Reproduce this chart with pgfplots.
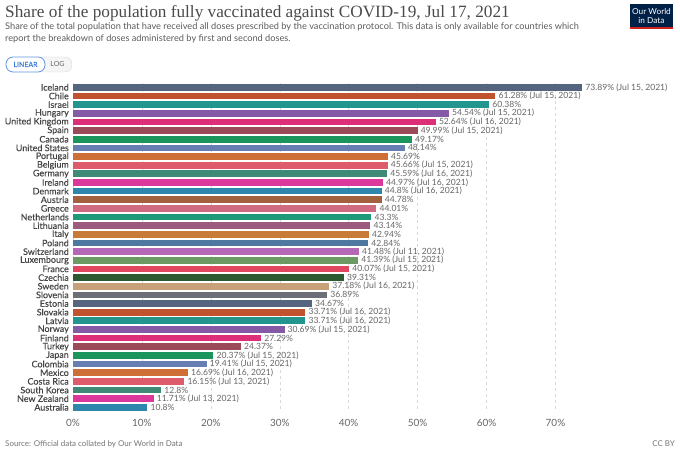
\documentclass[border=0pt]{standalone}
\usepackage{pgfplots}
\pgfplotsset{compat=1.18}
\usepackage{fontspec}
\setmainfont{Lato}
\newfontfamily\titlefont{Liberation Serif}
\newfontfamily\lblfont{Lato}[FakeBold=0.25]
\definecolor{cA}{HTML}{56657F}
\definecolor{cB}{HTML}{C0522D}
\definecolor{cC}{HTML}{22958E}
\definecolor{cD}{HTML}{8459A6}
\definecolor{cE}{HTML}{DC2F78}
\definecolor{cF}{HTML}{9A4A59}
\definecolor{cG}{HTML}{1C955C}
\definecolor{cH}{HTML}{667EB2}
\definecolor{cI}{HTML}{CD6F37}
\definecolor{cJ}{HTML}{DE5B6B}
\definecolor{cK}{HTML}{3E8A77}
\definecolor{cL}{HTML}{DC379A}
\definecolor{cM}{HTML}{2F86AD}
\definecolor{cN}{HTML}{A2603F}
\definecolor{cO}{HTML}{CF6A80}
\definecolor{cP}{HTML}{1F9A79}
\definecolor{cQ}{HTML}{9C5B7D}
\definecolor{cR}{HTML}{C87B36}
\definecolor{cS}{HTML}{4F78A0}
\definecolor{cT}{HTML}{B468B6}
\definecolor{cU}{HTML}{6C9A63}
\definecolor{cV}{HTML}{E0475E}
\definecolor{cW}{HTML}{2C5A30}
\definecolor{cX}{HTML}{C8A07A}
\definecolor{cY}{HTML}{6C6F78}
\definecolor{owid}{HTML}{002147}
\definecolor{owidred}{HTML}{CE261E}
\definecolor{titlegray}{HTML}{4A4A4A}
\definecolor{txtgray}{HTML}{5B5B5B}
\definecolor{lblgray}{HTML}{444444}
\definecolor{valgray}{HTML}{666666}
\definecolor{btnblue}{HTML}{3A7BD5}
\newcommand{\cbar}[4]{\addplot[fill=#3,draw=none] coordinates {(#2,#1) [#4]};}
\begin{document}
\begin{tikzpicture}
\useasboundingbox (0,0) rectangle (680bp,454bp);
% header
\node[anchor=base west, inner sep=0pt, text=titlegray, font=\titlefont\fontsize{17.3}{20}\selectfont] at (5bp,436bp) {Share of the population fully vaccinated against COVID-19, Jul 17, 2021};
\node[anchor=base west, inner sep=0pt, text=txtgray, font=\fontsize{9.25}{11}\selectfont] at (5bp,424bp) {Share of the total population that have received all doses prescribed by the vaccination protocol. This data is only available for countries which};
\node[anchor=base west, inner sep=0pt, text=txtgray, font=\fontsize{9.25}{11}\selectfont] at (5bp,412bp) {report the breakdown of doses administered by first and second doses.};
% buttons
\draw[draw=gray!30, fill=gray!8, rounded corners=7bp] (36bp,382bp) rectangle (72bp,397bp);
\draw[draw=btnblue!80, fill=white, rounded corners=7bp, line width=0.8bp] (6bp,382bp) rectangle (45bp,397bp);
\node[text=btnblue, font=\lblfont\fontsize{7}{8}\selectfont] at (25.5bp,389.5bp) {LINEAR};
\node[text=valgray, font=\fontsize{7}{8}\selectfont] at (57.5bp,389.5bp) {LOG};
% logo
\fill[owid] (630bp,426bp) rectangle (673bp,450bp);
\fill[owidred] (630bp,425bp) rectangle (673bp,427bp);
\node[text=white, font=\fontsize{8.3}{9}\selectfont] at (651.5bp,443bp) {Our World};
\node[text=white, font=\fontsize{8.3}{9}\selectfont] at (651.5bp,433.5bp) {in Data};
% footer
\node[anchor=base west, inner sep=0pt, text=valgray!90, font=\fontsize{8}{9}\selectfont] at (5bp,8bp) {Source: Official data collated by Our World in Data};
\node[anchor=base east, inner sep=0pt, text=valgray!90, font=\fontsize{8}{9}\selectfont] at (675bp,8bp) {CC BY};
\begin{axis}[
  at={(73bp,42.4bp)}, anchor=south west,
  scale only axis, width=551.4bp, height=328.6bp,
  xmin=0, xmax=80, ymin=-0.5, ymax=37.5,
  y dir=reverse, clip=false,
  xbar, bar width=6.7bp,
  every axis plot/.append style={bar shift=0pt},
  axis line style={draw=none},
  major tick length=0pt,
  xtick={0,10,...,70},
  xticklabel={\pgfmathprintnumber{\tick}\%},
  /pgf/number format/assume math mode=true,
  xticklabel style={anchor=center, yshift=-11bp, font=\fontsize{10}{11}\selectfont, text=valgray},
  xmajorgrids, grid style={dashed, color=gray!30, line width=0.5bp},
  ytick={0,...,37},
  yticklabels={Iceland,Chile,Israel,Hungary,United Kingdom,Spain,Canada,United States,Portugal,Belgium,Germany,Ireland,Denmark,Austria,Greece,Netherlands,Lithuania,Italy,Poland,Switzerland,Luxembourg,France,Czechia,Sweden,Slovenia,Estonia,Slovakia,Latvia,Norway,Finland,Turkey,Japan,Colombia,Mexico,Costa Rica,South Korea,New Zealand,Australia},
  yticklabel style={anchor=east, inner sep=0pt, xshift=-4bp, font=\lblfont\fontsize{9}{10}\selectfont, text=lblgray},
  point meta=explicit symbolic,
  nodes near coords,
  nodes near coords style={anchor=west, inner sep=0pt, xshift=3bp, font=\fontsize{8.6}{9}\selectfont, text=valgray},
]
\cbar{0}{73.89}{cA}{73.89\% (Jul 15, 2021)}
\cbar{1}{61.28}{cB}{61.28\% (Jul 15, 2021)}
\cbar{2}{60.38}{cC}{60.38\%}
\cbar{3}{54.54}{cD}{54.54\% (Jul 15, 2021)}
\cbar{4}{52.64}{cE}{52.64\% (Jul 16, 2021)}
\cbar{5}{49.99}{cF}{49.99\% (Jul 15, 2021)}
\cbar{6}{49.17}{cG}{49.17\%}
\cbar{7}{48.14}{cH}{48.14\%}
\cbar{8}{45.69}{cI}{45.69\%}
\cbar{9}{45.66}{cJ}{45.66\% (Jul 15, 2021)}
\cbar{10}{45.59}{cK}{45.59\% (Jul 16, 2021)}
\cbar{11}{44.97}{cL}{44.97\% (Jul 16, 2021)}
\cbar{12}{44.8}{cM}{44.8\% (Jul 16, 2021)}
\cbar{13}{44.78}{cN}{44.78\%}
\cbar{14}{44.01}{cO}{44.01\%}
\cbar{15}{43.3}{cP}{43.3\%}
\cbar{16}{43.14}{cQ}{43.14\%}
\cbar{17}{42.94}{cR}{42.94\%}
\cbar{18}{42.84}{cS}{42.84\%}
\cbar{19}{41.48}{cT}{41.48\% (Jul 11, 2021)}
\cbar{20}{41.39}{cU}{41.39\% (Jul 15, 2021)}
\cbar{21}{40.07}{cV}{40.07\% (Jul 15, 2021)}
\cbar{22}{39.31}{cW}{39.31\%}
\cbar{23}{37.18}{cX}{37.18\% (Jul 16, 2021)}
\cbar{24}{36.89}{cY}{36.89\%}
\cbar{25}{34.67}{cA}{34.67\%}
\cbar{26}{33.71}{cB}{33.71\% (Jul 16, 2021)}
\cbar{27}{33.71}{cC}{33.71\% (Jul 16, 2021)}
\cbar{28}{30.69}{cD}{30.69\% (Jul 15, 2021)}
\cbar{29}{27.29}{cE}{27.29\%}
\cbar{30}{24.37}{cF}{24.37\%}
\cbar{31}{20.37}{cG}{20.37\% (Jul 15, 2021)}
\cbar{32}{19.41}{cH}{19.41\% (Jul 15, 2021)}
\cbar{33}{16.69}{cI}{16.69\% (Jul 16, 2021)}
\cbar{34}{16.15}{cJ}{16.15\% (Jul 13, 2021)}
\cbar{35}{12.8}{cK}{12.8\%}
\cbar{36}{11.71}{cL}{11.71\% (Jul 13, 2021)}
\cbar{37}{10.8}{cM}{10.8\%}
\end{axis}
\end{tikzpicture}
\end{document}
